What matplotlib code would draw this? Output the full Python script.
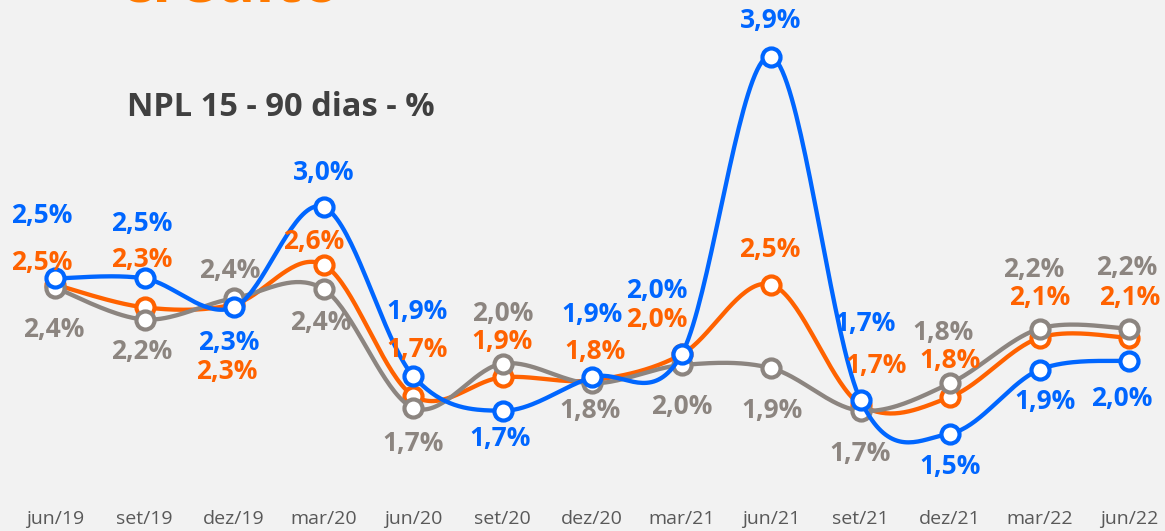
import numpy as np
import matplotlib
matplotlib.use("Agg")
import matplotlib.pyplot as plt
from matplotlib import font_manager

# ---------------- data ----------------
periods = ["jun/19", "set/19", "dez/19", "mar/20", "jun/20", "set/20", "dez/20",
           "mar/21", "jun/21", "set/21", "dez/21", "mar/22", "jun/22"]

# plotted values
blue_vals = [2.51, 2.51, 2.32, 2.98, 1.87, 1.64, 1.86, 2.01, 3.97, 1.71, 1.49, 1.91, 1.97]
orange_vals = [2.47, 2.32, 2.34, 2.60, 1.74, 1.86, 1.84, 2.01, 2.47, 1.68, 1.73, 2.12, 2.12]
gray_vals = [2.45, 2.24, 2.38, 2.44, 1.66, 1.95, 1.82, 1.94, 1.92, 1.64, 1.82, 2.18, 2.18]

# data labels as printed on the chart
blue_labels = ["2,5%", "2,5%", "2,3%", "3,0%", "1,9%", "1,7%", "1,9%", "2,0%", "3,9%",
               "1,7%", "1,5%", "1,9%", "2,0%"]
orange_labels = ["2,5%", "2,3%", "2,3%", "2,6%", "1,7%", "1,9%", "1,8%", "2,0%", "2,5%",
                 "1,7%", "1,8%", "2,1%", "2,1%"]
gray_labels = ["2,4%", "2,2%", "2,4%", "2,4%", "1,7%", "2,0%", "1,8%", "2,0%", "1,9%",
               "1,7%", "1,8%", "2,2%", "2,2%"]

title = "NPL 15 - 90 dias - %"
header = "crédito"

# ---------------- layout / style ----------------
# label offsets in pixels (dx, dy), dy positive = downward
blue_off = [(-13, -63), (-3, -55), (-5, 35), (0, -35), (4, -64), (-2, 28), (0, -63),
            (-25, -64), (0, -36), (5, -77), (0, 33), (6, 32), (-7, 38)]
orange_off = [(-13, -22), (-3, -48), (-7, 67), (-10, -23), (4, -46), (0, -36), (3, -29),
              (-25, -35), (-1, -35), (16, -39), (0, -37), (0, -40), (1, -40)]
gray_off = [(-1, 42), (-3, 32), (-4, -28), (-3, 33), (0, 36), (0, -50), (-2, 27),
            (0, 41), (1, 42), (0, 43), (-7, -51), (-6, -59), (-2, -61)]

BLUE = "#0066ff"
ORANGE = "#ff6200"
GRAY = "#8c8580"
BG = "#f2f2f2"

installed = {f.name for f in font_manager.fontManager.ttflist}
main_font = "Open Sans" if "Open Sans" in installed else "DejaVu Sans"
tick_font = "Liberation Sans Narrow" if "Liberation Sans Narrow" in installed else main_font

W, H = 1165, 531
fig = plt.figure(figsize=(W / 100, H / 100), dpi=100, facecolor=BG)
ax = fig.add_axes([0, 31 / H, 1, 1 - 31 / H])
ax.set_facecolor(BG)
for s in ax.spines.values():
    s.set_visible(False)

x = np.arange(len(periods))
ax.set_xlim(-0.6145, 12.402)
ax.set_ylim(1.0526, 4.342)
ax.set_yticks([])
ax.set_xticks(x)
ax.set_xticklabels(periods, fontsize=14, color="#595959", family=tick_font)
ax.tick_params(axis="x", length=0, pad=7)


def smooth(xs, ys, n=40):
    P = np.column_stack([xs, ys]).astype(float)
    out = []
    m = len(P)
    for i in range(m - 1):
        p0 = P[i - 1] if i > 0 else P[i]
        p1 = P[i]
        p2 = P[i + 1]
        p3 = P[i + 2] if i + 2 < m else P[i + 1]
        c1 = p1 + (p2 - p0) / 6.0
        c2 = p2 - (p3 - p1) / 6.0
        t = np.linspace(0, 1, n)[:, None]
        seg = ((1 - t) ** 3) * p1 + 3 * ((1 - t) ** 2) * t * c1 + 3 * (1 - t) * t ** 2 * c2 + t ** 3 * p2
        out.append(seg if i == 0 else seg[1:])
    arr = np.vstack(out)
    return arr[:, 0], arr[:, 1]


series = [
    (orange_vals, orange_labels, orange_off, ORANGE, 2),
    (gray_vals, gray_labels, gray_off, GRAY, 3),
    (blue_vals, blue_labels, blue_off, BLUE, 4),
]

for vals, labels, offs, col, z in series:
    sx, sy = smooth(x, vals)
    ax.plot(sx, sy, color=col, lw=3.1, zorder=z, solid_capstyle="round")
    ax.plot(x, vals, ls="none", marker="o", ms=13, mew=3.0, mec=col, mfc="white", zorder=z + 0.5)

for vals, labels, offs, col, z in series:
    for xi, v, lab, (dx, dy) in zip(x, vals, labels, offs):
        ax.annotate(lab, (xi, v), xytext=(dx, -dy), textcoords="offset pixels",
                    ha="center", va="center", fontsize=19, fontweight="bold",
                    color=col, family=main_font, zorder=10)

fig.text(281 / W, 1 - 108 / H, title, ha="center", va="center", fontsize=23.5,
         fontweight="bold", color="#404040", family=main_font)
fig.text(120 / W, 1 - 1.5 / H, header, ha="left", va="baseline", fontsize=45,
         fontweight="bold", color="#ff7a00", family=main_font)

fig.savefig("out.png", dpi=100, facecolor=BG)
